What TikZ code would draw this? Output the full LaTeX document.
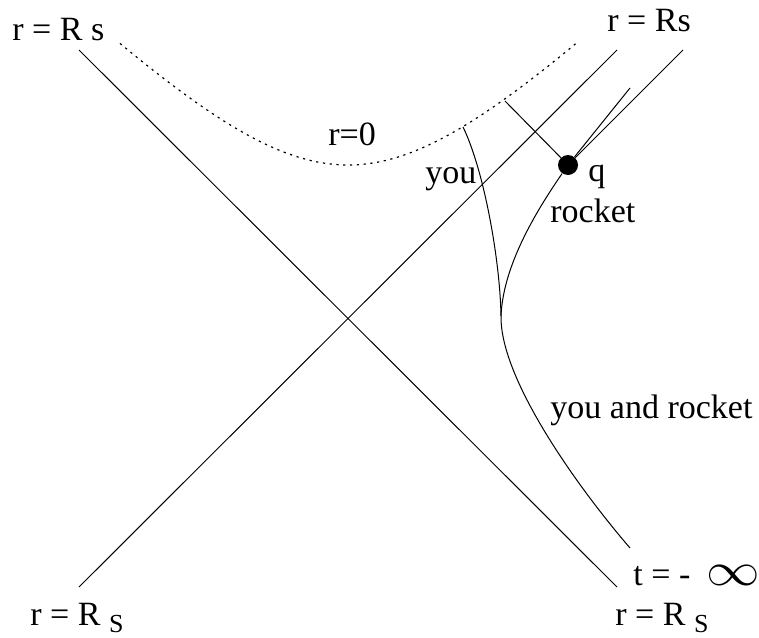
\documentclass[tikz,border=0pt]{standalone}
\usepackage{fontspec}
\setmainfont{Liberation Serif}
\usepackage{tikz}
\usetikzlibrary{calc}
\tikzset{
  lbl/.style={font=\fontsize{17}{20}\selectfont,inner sep=0pt,anchor=base west},
  hor/.style={draw=black,line width=0.5pt},
  sing/.style={draw=black,line width=0.6pt,dash pattern=on 1.1pt off 2.3pt},
  wline/.style={draw=black,line width=0.5pt},
  event/.style={circle,fill=black,minimum size=10pt,inner sep=0pt},
}
\newcommand{\subS}{\raisebox{-3.8pt}{\fontsize{13}{15}\selectfont S}}

\begin{document}
\begin{tikzpicture}[x=0.5pt,y=-0.5pt]
  \useasboundingbox (0,0) rectangle (759,637);
  \coordinate (htl) at (79,50); \coordinate (hbr) at (617,587);
  \coordinate (hbl) at (79,587); \coordinate (htr) at (617,50);
  \coordinate (far) at (630,548); \coordinate (split) at (501,316);
  \coordinate (ytop) at (463,127); \coordinate (stop) at (505,101);
  \coordinate (ray) at (683,50); \coordinate (ray2) at (630,88);
  \node[event] (q) at (568,165) {};
  \draw[hor] (htl) -- (hbr);
  \draw[hor] (hbl) -- (htr);
  \draw[sing] plot[domain=-228:230,samples=80] ({348+\x},{318-10*sqrt(234.09+(\x/10)^2)});
  \draw[wline] (far) .. controls (580,490) and (500,380) .. (split);
  \draw[wline] (split) .. controls (500,260) and (484,170) .. (ytop);
  \draw[wline] (split) .. controls (503,270) and (530,220) .. (q);
  \draw[wline] (q) -- (stop);
  \draw[wline] (q) -- (ray);
  \draw[wline] (q) -- (ray2);
  \node[lbl] (rtl) at (12,40) {r = R s};
  \node[lbl] (rtr) at (607,32) {r = Rs};
  \node[lbl] (r0) at (328,145) {r=0};
  \node[lbl] (you) at (425,183) {you};
  \node[lbl] (qlab) at (588,181) {q};
  \node[lbl] (rock) at (550,222) {rocket};
  \node[lbl] (both) at (550,418) {you and rocket};
  \node[lbl] (tinf) at (633,585) {t = -\hspace{8pt}\scalebox{1.55}[1.35]{$\infty$}};
  \node[lbl] (rbl) at (30,625) {r = R \subS};
  \node[lbl] (rbr) at (615,625) {r = R \subS};
\end{tikzpicture}
\end{document}
